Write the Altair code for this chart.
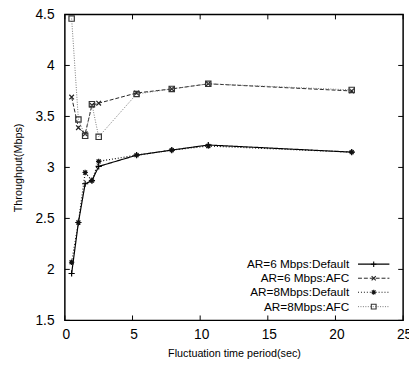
import altair as alt
import pandas as pd

# ---- data ----
x_vals = [0.5, 1, 1.5, 2, 2.5, 5.3, 7.9, 10.6, 21.2]
ar6_default = [1.96, 2.46, 2.84, 2.87, 3.01, 3.12, 3.17, 3.22, 3.15]
ar6_afc = [3.69, 3.39, 3.33, 3.61, 3.63, 3.73, 3.77, 3.82, 3.75]
ar8_default = [2.07, 2.46, 2.95, 2.87, 3.06, 3.12, 3.17, 3.21, 3.15]
ar8_afc = [4.46, 3.47, 3.31, 3.62, 3.30, 3.72, 3.77, 3.82, 3.76]
series_names = ["AR=6 Mbps:Default", "AR=6 Mbps:AFC", "AR=8Mbps:Default", "AR=8Mbps:AFC"]
x_ticks = [0, 5, 10, 15, 20, 25]
y_ticks = [1.5, 2, 2.5, 3, 3.5, 4, 4.5]

W, H = 345, 312
FONT = "Liberation Sans"

PLUS = "M-1,0L1,0M0,-1L0,1"
XMARK = "M-1,-1L1,1M-1,1L1,-1"
STAR = "M-1,0L1,0M0,-1L0,1M-0.75,-0.75L0.75,0.75M-0.75,0.75L0.75,-0.75"
SQUARE = "square"

styles = [
    dict(color="#000000", dash=[1, 0], shape=PLUS, size=40, width=1.2),
    dict(color="#222222", dash=[4, 2], shape=XMARK, size=22, width=1.0),
    dict(color="#111111", dash=[1, 2], shape=STAR, size=30, width=1.2),
    dict(color="#777777", dash=[1, 1.5], shape=SQUARE, size=30, width=1.0),
]
values = [ar6_default, ar6_afc, ar8_default, ar8_afc]

xs = alt.Scale(domain=[0, 25], nice=False)
ys = alt.Scale(domain=[1.5, 4.5], nice=False, zero=False)

x_axis = alt.Axis(values=x_ticks, title="Fluctuation time period(sec)", tickSize=0, domain=False,
                  grid=False, labelFont=FONT, labelFontSize=14, labelPadding=8, labelOffset=1,
                  titleFont=FONT, titleFontSize=11, titleFontWeight="normal", titlePadding=6,
                  labelColor="#000", titleColor="#000", labelFlush=False)
y_axis = alt.Axis(values=y_ticks, title="Throughput(Mbps)", tickSize=0, domain=False, grid=False,
                  format="~g", labelFont=FONT, labelFontSize=14, labelPadding=11,
                  titleFont=FONT, titleFontSize=11, titleFontWeight="normal", titlePadding=12,
                  labelColor="#000", titleColor="#000", labelFlush=False)


def X(field):
    return alt.X(field, scale=xs, axis=x_axis)


def Y(field):
    return alt.Y(field, scale=ys, axis=y_axis)


layers = []
for i, (name, vals, st) in enumerate(zip(series_names, values, styles)):
    df = pd.DataFrame({"x": x_vals, "y": vals, "series": name})
    base = alt.Chart(df)
    line = base.mark_line(color=st["color"], strokeDash=st["dash"], strokeWidth=st["width"]).encode(
        x=X("x:Q"), y=Y("y:Q"))
    pts = base.mark_point(shape=st["shape"], filled=False, color=st["color"] if i != 3 else "#333333",
                          size=st["size"], strokeWidth=1.2, opacity=1).encode(x=X("x:Q"), y=Y("y:Q"))
    layers += [line, pts]

# inward ticks
xt = pd.DataFrame({"t": x_ticks})
yt = pd.DataFrame({"t": y_ticks})
tick_style = dict(color="#000", strokeWidth=1)
layers += [
    alt.Chart(xt).mark_rule(**tick_style).encode(x=X("t:Q"), y=alt.value(H), y2=alt.value(H - 5)),
    alt.Chart(xt).mark_rule(**tick_style).encode(x=X("t:Q"), y=alt.value(0), y2=alt.value(5)),
    alt.Chart(yt).mark_rule(**tick_style).encode(y=Y("t:Q"), x=alt.value(0), x2=alt.value(5)),
    alt.Chart(yt).mark_rule(**tick_style).encode(y=Y("t:Q"), x=alt.value(W), x2=alt.value(W - 5)),
]

# legend (inside, bottom right)
row_y = [254.7, 269, 283.3, 298]
for name, st, ry in zip(series_names, styles, row_y):
    ld = pd.DataFrame({"label": [name]})
    layers.append(alt.Chart(ld).mark_text(align="right", baseline="middle", font=FONT, fontSize=12,
                                          color="#000").encode(text="label:N", x=alt.value(290), y=alt.value(ry)))
    layers.append(alt.Chart(ld).mark_rule(color=st["color"], strokeDash=st["dash"], strokeWidth=st["width"]).encode(
        x=alt.value(299), x2=alt.value(331), y=alt.value(ry)))
    layers.append(alt.Chart(ld).mark_point(shape=st["shape"], filled=False, size=st["size"] * 0.8,
                                           color=st["color"] if st["shape"] != SQUARE else "#333333",
                                           strokeWidth=1.1, opacity=1).encode(x=alt.value(315), y=alt.value(ry)))

chart = alt.layer(*layers).properties(
    width=W, height=H,
    autosize=alt.AutoSizeParams(type="none"),
    padding={"left": 58, "top": 3, "right": 6, "bottom": 47},
).configure(background="white").configure_view(stroke="#000", strokeWidth=1.5)

chart.save("out.html", embed_options={"renderer": "svg", "actions": False})
